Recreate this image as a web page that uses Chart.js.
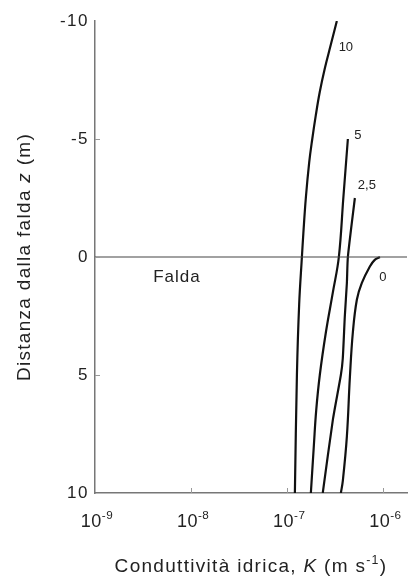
<!DOCTYPE html>
<html>
<head>
<meta charset="utf-8">
<script src="https://cdn.jsdelivr.net/npm/chart.js@4.4.1/dist/chart.umd.min.js"></script>
<style>
  html, body { margin: 0; padding: 0; background: #fff; }
  #wrap { width: 408px; height: 578px; }
</style>
</head>
<body>
<div id="wrap"><canvas id="chart"></canvas></div>
<script>
// depth below water table (m), negative = above
var zTicks = [-10, -5, 0, 5, 10];
var kTicks = [1e-9, 1e-8, 1e-7, 1e-6];
var kTickExp = ['-9', '-8', '-7', '-6'];
var kMin = 1e-9, kMax = 1.76e-6;

var curveNames = ['10', '5', '2,5', '0'];

var z10 = [-10, -9, -8, -7, -6, -5, -4, -2.5, -1, 0, 2, 5, 10];
var k10 = [3.28e-7, 2.84e-7, 2.46e-7, 2.18e-7, 1.98e-7, 1.82e-7, 1.69e-7, 1.56e-7, 1.47e-7, 1.42e-7, 1.33e-7, 1.26e-7, 1.20e-7];

var z5 = [-5, -2.5, 0, 1.5, 3.2, 5, 6.5, 8, 10];
var k5 = [4.27e-7, 3.83e-7, 3.44e-7, 2.98e-7, 2.52e-7, 2.18e-7, 2.00e-7, 1.89e-7, 1.76e-7];

var z25 = [-2.5, 0, 1.1, 2.5, 4.3, 5, 6.9, 10];
var k25 = [5.05e-7, 4.27e-7, 4.17e-7, 3.97e-7, 3.78e-7, 3.61e-7, 2.98e-7, 2.34e-7];

var z0 = [0, 0.12, 0.4, 1.1, 1.8, 3.2, 5.1, 7.6, 9.5, 10];
var k0 = [9.20e-7, 8.13e-7, 7.23e-7, 5.97e-7, 5.30e-7, 4.81e-7, 4.48e-7, 4.17e-7, 3.78e-7, 3.61e-7];

function pts(ks, zs) {
  return ks.map(function(k, i) { return { x: k, y: zs[i] }; });
}

var FONT = '"Liberation Sans", Arial, sans-serif';

function curve(ks, zs, tension) {
  return {
    data: pts(ks, zs),
    showLine: true,
    borderColor: '#111',
    borderWidth: 2.2,
    pointRadius: 0,
    tension: tension,
    fill: false
  };
}

// draw a string made of plain / italic / superscript runs
function runsWidth(ctx, runs, size) {
  var w = 0;
  runs.forEach(function(r) {
    var s = r.sup ? size * 0.65 : size;
    ctx.font = (r.it ? 'italic ' : '') + s + 'px ' + FONT;
    w += ctx.measureText(r.t).width;
  });
  return w;
}
function drawRuns(ctx, runs, x, y, size) {
  runs.forEach(function(r) {
    var s = r.sup ? size * 0.65 : size;
    ctx.font = (r.it ? 'italic ' : '') + s + 'px ' + FONT;
    ctx.fillText(r.t, x, y + (r.sup ? -size * 0.42 : 0));
    x += ctx.measureText(r.t).width;
  });
}

var extras = {
  id: 'extras',
  beforeDraw: function(chart) {
    // wider spacing for the y tick labels drawn by the scale
    if ('letterSpacing' in chart.ctx) chart.ctx.letterSpacing = '1.5px';
  },
  afterDraw: function(chart) {
    var ctx = chart.ctx;
    var xs = chart.scales.x, ys = chart.scales.y;
    var a = chart.chartArea;
    ctx.save();

    // small inward ticks
    ctx.strokeStyle = '#999';
    ctx.lineWidth = 1;
    ctx.beginPath();
    kTicks.slice(1).forEach(function(k) {
      var px = Math.round(xs.getPixelForValue(k)) + 0.5;
      ctx.moveTo(px, a.bottom);
      ctx.lineTo(px, a.bottom - 5);
    });
    [-5, 0, 5].forEach(function(z) {
      var py = Math.round(ys.getPixelForValue(z)) + 0.5;
      ctx.moveTo(a.left, py);
      ctx.lineTo(a.left + 5, py);
    });
    ctx.stroke();

    ctx.fillStyle = '#222';
    ctx.textBaseline = 'alphabetic';
    ctx.textAlign = 'left';
    if ('letterSpacing' in ctx) ctx.letterSpacing = '0.5px';

    // x tick labels 10^n
    kTicks.forEach(function(k, i) {
      var runs = [{ t: '10' }, { t: kTickExp[i], sup: true }];
      var w = runsWidth(ctx, runs, 18);
      var px = xs.getPixelForValue(k);
      drawRuns(ctx, runs, px - w / 2 + 2, a.bottom + 34, 18);
    });

    // x title
    if ('letterSpacing' in ctx) ctx.letterSpacing = '1.3px';
    var xt = [{ t: 'Conduttività idrica, ' }, { t: 'K', it: true }, { t: ' (m s' }, { t: '-1', sup: true }, { t: ')' }];
    var wx = runsWidth(ctx, xt, 19);
    drawRuns(ctx, xt, 251 - wx / 2, 572, 19);

    // y title, rotated
    var yt = [{ t: 'Distanza dalla falda ' }, { t: 'z', it: true }, { t: ' (m)' }];
    var wy = runsWidth(ctx, yt, 19);
    ctx.save();
    ctx.translate(30, ys.getPixelForValue(0));
    ctx.rotate(-Math.PI / 2);
    drawRuns(ctx, yt, -wy / 2, 0, 19);
    ctx.restore();

    // "Falda" under the water-table line
    if ('letterSpacing' in ctx) ctx.letterSpacing = '1px';
    ctx.font = '17px ' + FONT;
    ctx.textAlign = 'center';
    ctx.fillText('Falda', 177, ys.getPixelForValue(0) + 25);

    // curve labels next to upper ends
    ctx.font = '13px ' + FONT;
    if ('letterSpacing' in ctx) ctx.letterSpacing = '0px';
    var ends = [[k10[0], z10[0], 9, 30], [k5[0], z5[0], 10, 0], [k25[0], z25[0], 12, -9], [k0[0], z0[0], 3, 24]];
    ends.forEach(function(e, i) {
      var px = xs.getPixelForValue(e[0]) + e[2];
      var py = ys.getPixelForValue(e[1]) + e[3];
      ctx.fillText(curveNames[i], px, py);
    });
    ctx.restore();
  }
};

new Chart(document.getElementById('chart'), {
  type: 'scatter',
  data: {
    datasets: [
      {
        data: [{ x: kMin, y: 0 }, { x: kMax, y: 0 }],
        showLine: true, borderColor: '#444', borderWidth: 1.2, pointRadius: 0
      },
      curve(k10, z10, 0.4),
      curve(k5, z5, 0.4),
      curve(k25, z25, 0.2),
      curve(k0, z0, 0.4)
    ]
  },
  options: {
    responsive: true,
    maintainAspectRatio: false,
    animation: false,
    layout: { padding: { left: 0, top: 21, right: 1, bottom: 0 } },
    plugins: { legend: { display: false }, tooltip: { enabled: false } },
    scales: {
      x: {
        type: 'logarithmic',
        min: kMin,
        max: kMax,
        afterBuildTicks: function(s) { s.ticks = kTicks.map(function(v) { return { value: v }; }); },
        afterFit: function(s) { s.height = 85; },
        grid: { display: false, drawTicks: false },
        border: { display: true, color: '#777', width: 1.5 },
        ticks: { display: false }
      },
      y: {
        type: 'linear',
        reverse: true,
        min: -10,
        max: 10,
        afterBuildTicks: function(s) { s.ticks = zTicks.map(function(v) { return { value: v }; }); },
        afterFit: function(s) { s.width = 95; },
        grid: { display: false, drawTicks: false },
        border: { display: true, color: '#777', width: 1.5 },
        ticks: {
          color: '#222',
          padding: 6,
          font: { family: FONT, size: 17 },
          callback: function(v) { return String(v); }
        }
      }
    }
  },
  plugins: [extras]
});
</script>
</body>
</html>
